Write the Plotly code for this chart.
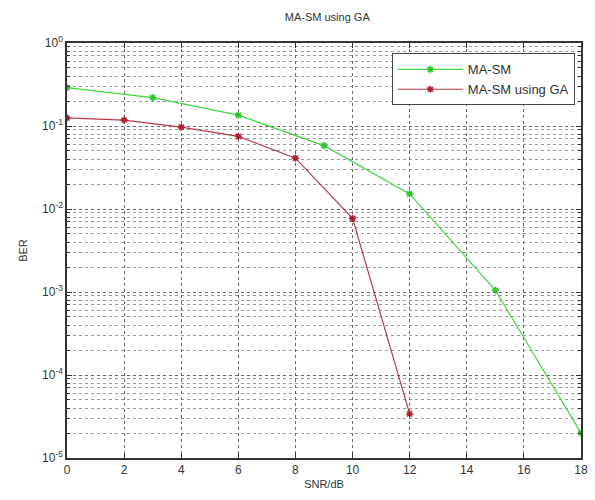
import plotly.graph_objects as go

snr_ma = [0, 3, 6, 9, 12, 15, 18]
ber_ma = [0.29, 0.22, 0.135, 0.058, 0.0152, 0.00105, 2.0e-5]
snr_ga = [0, 2, 4, 6, 8, 10, 12]
ber_ga = [0.125, 0.118, 0.097, 0.075, 0.041, 0.0077, 3.4e-5]

x_ticks = [0, 2, 4, 6, 8, 10, 12, 14, 16, 18]
y_ticks = [1, 1e-1, 1e-2, 1e-3, 1e-4, 1e-5]
y_ticktext = ["10<sup>0</sup>", "10<sup>-1</sup>", "10<sup>-2</sup>", "10<sup>-3</sup>", "10<sup>-4</sup>", "10<sup>-5</sup>"]
y_minor = [k * 10.0 ** e for e in range(-5, 0) for k in range(2, 10)]

fig = go.Figure()
fig.add_trace(go.Scatter(x=snr_ma, y=ber_ma, mode="lines+markers", name="MA-SM",
                         line=dict(color="#3ed83e", width=1.2),
                         marker=dict(symbol="asterisk-open", size=6, color="#2bc42b",
                                     line=dict(color="#2bc42b", width=1.5))))
fig.add_trace(go.Scatter(x=snr_ga, y=ber_ga, mode="lines+markers", name="MA-SM using GA",
                         line=dict(color="#b83a4a", width=1.2),
                         marker=dict(symbol="asterisk-open", size=6, color="#a8202e",
                                     line=dict(color="#a8202e", width=1.5))))

fig.update_layout(
    width=595, height=500,
    margin=dict(l=67, r=7, t=43, b=42),
    paper_bgcolor="white", plot_bgcolor="white",
    font=dict(family="Liberation Sans, Arial, sans-serif", size=11, color="#333"),
    title=dict(text="MA-SM using GA", x=0.55, xanchor="center", y=0.965, yanchor="middle",
               font=dict(size=11, color="#333")),
    showlegend=True,
    legend=dict(x=0.988, y=0.975, xanchor="right", yanchor="top",
                bgcolor="white", bordercolor="#444", borderwidth=1,
                font=dict(size=13, color="#333"), tracegroupgap=0, itemwidth=65),
    xaxis=dict(range=[0, 18], tickvals=x_ticks, ticks="inside", ticklen=5,
               tickcolor="#333", showline=True, linecolor="#333", linewidth=1.5, mirror="ticks",
               showgrid=True, gridcolor="#666", griddash="dot", gridwidth=1,
               zeroline=False, title=dict(text="SNR/dB", standoff=4, font=dict(size=11)),
               tickfont=dict(size=12)),
    yaxis=dict(type="log", range=[-5, 0], tickvals=y_ticks, ticktext=y_ticktext,
               ticks="inside", ticklen=5, tickcolor="#333",
               showline=True, linecolor="#333", linewidth=1.5, mirror="ticks",
               showgrid=True, gridcolor="#666", griddash="dot", gridwidth=1,
               zeroline=False, title=dict(text="BER", standoff=12, font=dict(size=11)),
               tickfont=dict(size=12),
               minor=dict(tickmode="array", tickvals=y_minor, showgrid=True,
                          gridcolor="#999", griddash="dot", gridwidth=1,
                          ticks="inside", ticklen=3, tickcolor="#333")),
)

fig.write_html("out.html")
